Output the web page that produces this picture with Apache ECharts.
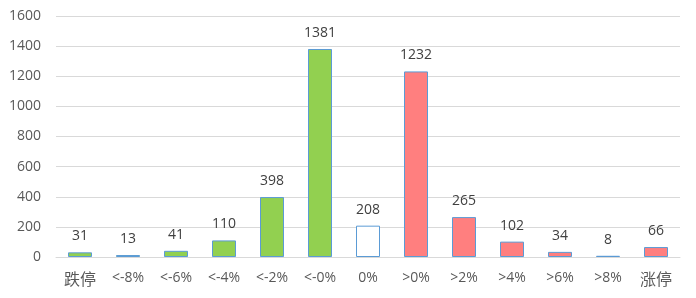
<!DOCTYPE html>
<html><head><meta charset="utf-8">
<script src="https://cdn.jsdelivr.net/npm/echarts@6/dist/echarts.min.js"></script>
<style>html,body{margin:0;padding:0;background:#fff}#c{width:696px;height:298px}</style>
</head><body><div id="c"></div>
<script>
const categories = ['跌停','<-8%','<-6%','<-4%','<-2%','<-0%','0%','>0%','>2%','>4%','>6%','>8%','涨停'];
const values = [31,13,41,110,398,1381,208,1232,265,102,34,8,66];
const fills = ['#92D050','#92D050','#92D050','#92D050','#92D050','#92D050','#FFFFFF','#FF7F7F','#FF7F7F','#FF7F7F','#FF7F7F','#FF7F7F','#FF7F7F'];
const yTicks = [0,200,400,600,800,1000,1200,1400,1600];
const font = '"Open Sans","Noto Sans CJK SC",sans-serif';
const chart = echarts.init(document.getElementById('c'));
chart.setOption({
  animation:false,
  grid:{left:56,right:16,top:16,bottom:41},
  xAxis:{type:'category',data:categories,
    axisLine:{show:true,lineStyle:{color:'#D9D9D9'}},axisTick:{show:false},
    axisLabel:{interval:0,hideOverlap:false,color:'#595959',fontSize:14,fontFamily:font,margin:14,
      formatter:v=>/^[\u4e00-\u9fff]+$/.test(v)?'{cn|'+v+'}':v,
      rich:{cn:{fontSize:16,color:'#595959',fontFamily:'"Noto Sans CJK SC",sans-serif'}}}},
  yAxis:{type:'value',min:yTicks[0],max:yTicks[yTicks.length-1],interval:200,
    axisLine:{show:false},axisTick:{show:false},
    splitLine:{lineStyle:{color:'#D9D9D9'}},
    axisLabel:{color:'#595959',fontSize:14,fontFamily:font,margin:15,formatter:v=>String(v)}},
  series:[{type:'bar',barWidth:'50%',
    data:values.map((v,i)=>({value:v,itemStyle:{color:fills[i]}})),
    itemStyle:{borderColor:'#5B9BD5',borderWidth:1},
    label:{show:true,position:'top',distance:9,color:'#404040',fontSize:14,fontFamily:font}}]
});
</script></body></html>
